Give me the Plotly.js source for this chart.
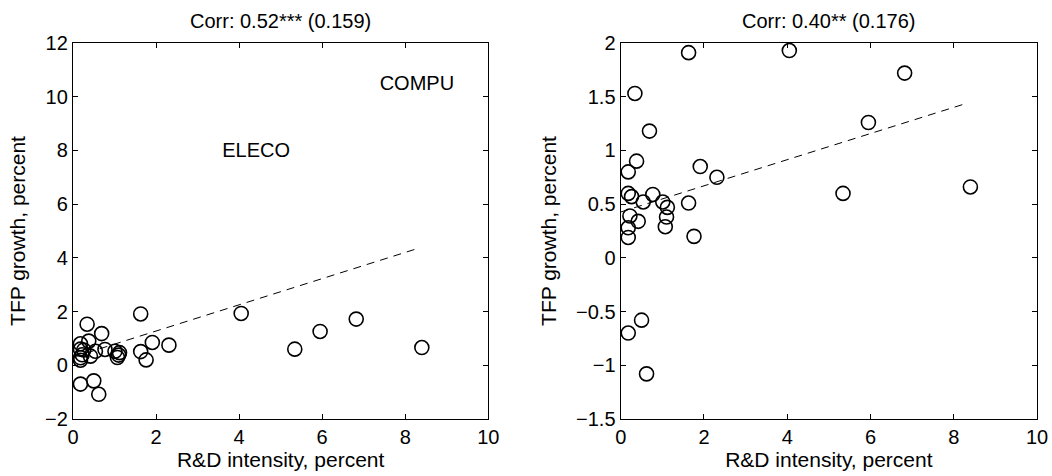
<!DOCTYPE html>
<html>
<head>
<meta charset="utf-8">
<script src="https://cdn.plot.ly/plotly-3.0.1.min.js"></script>
<style>html,body{margin:0;padding:0;background:#fff;}#chart{width:1052px;height:476px;}</style>
</head>
<body>
<div id="chart"></div>
<script>
// R&D intensity (percent) and TFP growth (percent) by industry
const rdIntensity = [1.63, 0.34, 0.69, 0.38, 0.18, 1.91, 2.31, 0.18, 0.26, 0.54, 0.77, 1.01, 1.12, 1.63, 0.22, 0.42, 1.10, 1.07, 0.18, 0.18, 1.76, 0.50, 0.18, 0.62, 4.05, 6.82, 5.95, 5.34, 8.40];
const tfpGrowth  = [1.91, 1.53, 1.18, 0.90, 0.80, 0.85, 0.75, 0.60, 0.57, 0.52, 0.59, 0.52, 0.47, 0.51, 0.39, 0.34, 0.38, 0.29, 0.28, 0.19, 0.20, -0.58, -0.70, -1.08, 1.93, 1.72, 1.26, 0.60, 0.66];
// Outliers shown only in the left panel, as labels
const outlierNames = ["ELECO", "COMPU"];
const outlierRD    = [4.41, 8.28];
const outlierTFP   = [7.96, 10.43];
// Fitted lines: [x start, x end] and [y start, y end]
const fitAllX = [0, 8.22];
const fitAllY = [0.30, 4.31];
const fitExX  = [0, 8.24];
const fitExY  = [0.427, 1.43];
const panelTitles = ["Corr: 0.52*** (0.159)", "Corr: 0.40** (0.176)"];
const xTitle = "R&D intensity, percent";
const yTitle = "TFP growth, percent";

const FONT = "Liberation Sans, Arial, sans-serif";
const markerStyle = {symbol: "circle-open", size: 14, color: "#000", line: {width: 1.6, color: "#000"}};

const traces = [
  {x: rdIntensity, y: tfpGrowth, xaxis: "x", yaxis: "y", mode: "markers", type: "scatter", marker: markerStyle},
  {x: fitAllX, y: fitAllY, xaxis: "x", yaxis: "y", mode: "lines", type: "scatter", line: {color: "#000", width: 1, dash: "8px,6px"}},
  {x: outlierRD, y: outlierTFP, text: outlierNames, xaxis: "x", yaxis: "y", mode: "text", type: "scatter", textfont: {family: FONT, size: 20, color: "#000"}},
  {x: rdIntensity, y: tfpGrowth, xaxis: "x2", yaxis: "y2", mode: "markers", type: "scatter", marker: markerStyle},
  {x: fitExX, y: fitExY, xaxis: "x2", yaxis: "y2", mode: "lines", type: "scatter", line: {color: "#000", width: 1, dash: "8px,6px"}}
];

function axisBase(extra) {
  return Object.assign({
    showgrid: false, zeroline: false, showline: true, linecolor: "#000", linewidth: 1.2,
    mirror: "ticks", ticks: "inside", ticklen: 5, tickwidth: 1, tickcolor: "#000",
    tickfont: {family: FONT, size: 20, color: "#000"}
  }, extra);
}

const layout = {
  width: 1052, height: 476,
  paper_bgcolor: "#fff", plot_bgcolor: "#fff",
  showlegend: false,
  margin: {l: 73, r: 15, t: 43, b: 57},
  font: {family: FONT, color: "#000"},
  xaxis: axisBase({domain: [0, 0.4308], range: [0, 10], dtick: 2, tick0: 0, anchor: "y",
    title: {text: xTitle, font: {family: FONT, size: 21, color: "#000"}, standoff: 3}}),
  yaxis: axisBase({range: [-2, 12], dtick: 2, tick0: 0, anchor: "x",
    title: {text: yTitle, font: {family: FONT, size: 21, color: "#000"}, standoff: 13}}),
  xaxis2: axisBase({domain: [0.5682, 1], range: [0, 10], dtick: 2, tick0: 0, anchor: "y2",
    title: {text: xTitle, font: {family: FONT, size: 21, color: "#000"}, standoff: 3}}),
  yaxis2: axisBase({range: [-1.5, 2], dtick: 0.5, tick0: 0, anchor: "x2",
    title: {text: yTitle, font: {family: FONT, size: 21, color: "#000"}, standoff: 13}}),
  annotations: [
    {text: panelTitles[0], xref: "x domain", yref: "paper", x: 0.5, y: 1, yshift: 9, xanchor: "center", yanchor: "bottom", showarrow: false, font: {family: FONT, size: 20, color: "#000"}},
    {text: panelTitles[1], xref: "x2 domain", yref: "paper", x: 0.5, y: 1, yshift: 9, xanchor: "center", yanchor: "bottom", showarrow: false, font: {family: FONT, size: 20, color: "#000"}}
  ]
};

Plotly.newPlot("chart", traces, layout, {displayModeBar: false, staticPlot: true});
</script>
</body>
</html>
